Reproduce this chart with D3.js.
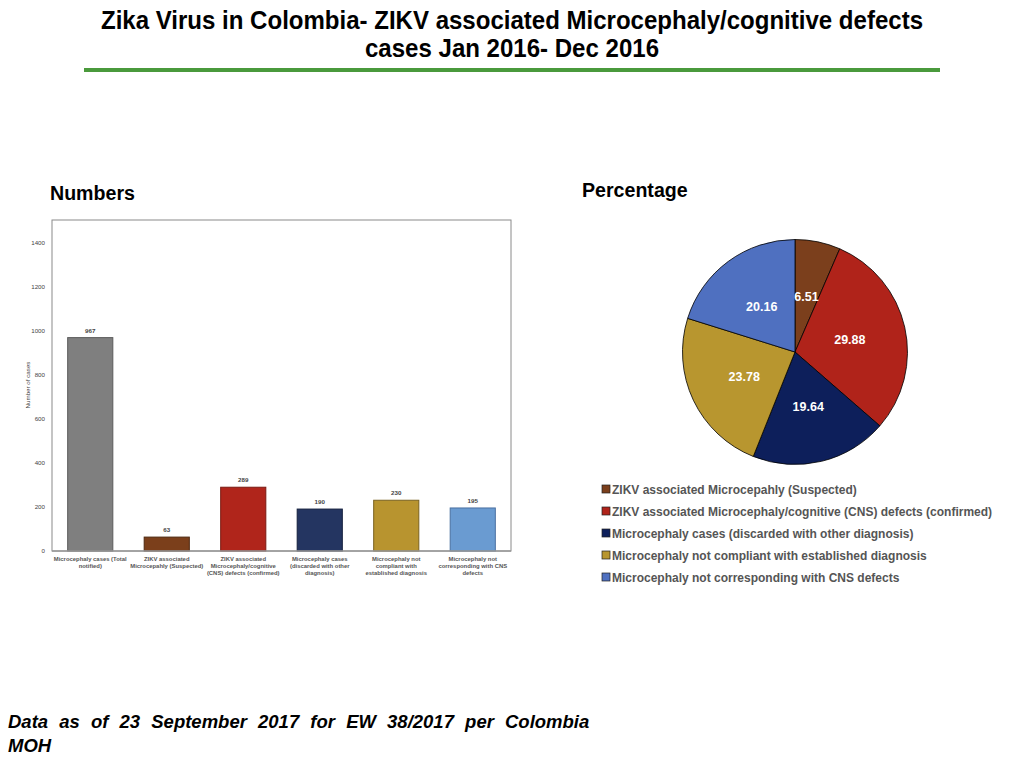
<!DOCTYPE html>
<html><head><meta charset="utf-8">
<script src="https://cdn.jsdelivr.net/npm/d3@7"></script>
<style>body{margin:0;background:#fff}svg{display:block}</style>
</head><body>
<svg id="c" width="1024" height="768"></svg>
<script>
const categories = [
  ["Microcephaly cases (Total","notified)"],
  ["ZIKV associated","Microcepahly (Suspected)"],
  ["ZIKV associated","Microcephaly/cognitive","(CNS) defects (confirmed)"],
  ["Microcephaly cases","(discarded with other","diagnosis)"],
  ["Microcephaly not","compliant with","established diagnosis"],
  ["Microcephaly not","corresponding with CNS","defects"]
];
const counts = [967, 63, 289, 190, 230, 195];
const barColors = ["#7f7f7f","#7b3f1b","#b0251b","#243561","#b8942f","#6a9bd1"];
const barStrokes = ["#5a5a5a","#4e2810","#7a1a12","#141f3c","#7a6220","#4a70a0"];
const yTicks = [0,200,400,600,800,1000,1200,1400];

const pieLabels = [
  "ZIKV associated Microcepahly (Suspected)",
  "ZIKV associated Microcephaly/cognitive (CNS) defects (confirmed)",
  "Microcephaly cases (discarded with other diagnosis)",
  "Microcephaly not compliant with established diagnosis",
  "Microcephaly not corresponding with CNS defects"
];
const piePercents = [6.51, 29.88, 19.64, 23.78, 20.16];
const pieColors = ["#7b3f1c","#b0231a","#0d1f5b","#b8962f","#4f70c0"];

const svg = d3.select("#c");
const sans = "'Liberation Sans', Arial, Helvetica, sans-serif";

// Title
svg.append("text").attr("x",512).attr("y",29).attr("text-anchor","middle")
  .attr("font-family",sans).attr("font-weight","bold").attr("font-size",25.5).attr("fill","#000")
  .attr("textLength",822).attr("lengthAdjust","spacingAndGlyphs")
  .text("Zika Virus in Colombia- ZIKV associated Microcephaly/cognitive defects");
svg.append("text").attr("x",512).attr("y",57).attr("text-anchor","middle")
  .attr("font-family",sans).attr("font-weight","bold").attr("font-size",25.5).attr("fill","#000")
  .attr("textLength",294).attr("lengthAdjust","spacingAndGlyphs")
  .text("cases Jan 2016- Dec 2016");
svg.append("rect").attr("x",84).attr("y",68).attr("width",856).attr("height",4).attr("fill","#4a9a3c");

svg.append("text").attr("x",50).attr("y",200).attr("font-family",sans).attr("font-weight","bold")
  .attr("font-size",19.6).text("Numbers");
svg.append("text").attr("x",582).attr("y",197).attr("font-family",sans).attr("font-weight","bold")
  .attr("font-size",19.6).text("Percentage");

// Bar chart
const L=52, R=511, T=220, B=551;
const x = d3.scaleBand().domain(d3.range(categories.length)).range([L,R]).paddingInner(0.41).paddingOuter(0.205);
const y = d3.scaleLinear().domain([0,1500]).range([B,T]);
const g = svg.append("g");
g.append("rect").attr("x",L).attr("y",T).attr("width",R-L).attr("height",B-T)
  .attr("fill","none").attr("stroke","#8a8a8a").attr("stroke-width",1);

const yAxis = d3.axisLeft(y).tickValues(yTicks).tickSize(0).tickPadding(7).tickFormat(d3.format("d"));
const ya = g.append("g").attr("transform",`translate(${L},0)`).call(yAxis);
ya.select(".domain").remove();
ya.selectAll("text").attr("font-family",sans).attr("font-size",6.2).attr("fill","#444");

g.append("text").attr("transform",`translate(30,385) rotate(-90)`).attr("text-anchor","middle")
  .attr("font-family",sans).attr("font-size",6.2).attr("fill","#444").text("Number of cases");

g.selectAll("rect.bar").data(counts).join("rect").attr("class","bar")
  .attr("x",(d,i)=>x(i)).attr("width",x.bandwidth())
  .attr("y",d=>y(d)).attr("height",d=>B-y(d))
  .attr("fill",(d,i)=>barColors[i]).attr("stroke",(d,i)=>barStrokes[i]).attr("stroke-width",1);

g.append("line").attr("x1",L).attr("x2",R).attr("y1",B).attr("y2",B).attr("stroke","#999").attr("stroke-width",1.5);

g.selectAll("text.val").data(counts).join("text").attr("class","val")
  .attr("x",(d,i)=>x(i)+x.bandwidth()/2).attr("y",d=>y(d)-5).attr("text-anchor","middle")
  .attr("font-family",sans).attr("font-weight","bold").attr("font-size",6.2).attr("fill","#444").text(d=>d);

const xa = g.append("g").attr("transform",`translate(0,${B})`).call(d3.axisBottom(x).tickSize(0).tickFormat(""));
xa.select(".domain").remove();
categories.forEach((lines,i)=>{
  const t = g.append("text").attr("text-anchor","middle").attr("font-family",sans).attr("font-weight","bold")
    .attr("font-size",5.9).attr("fill","#555");
  lines.forEach((ln,j)=>t.append("tspan").attr("x",x(i)+x.bandwidth()/2).attr("y",561+j*7.2).text(ln));
});

// Pie
const cx=795, cy=352, r=112.5;
const pie = d3.pie().sort(null).value(d=>d);
const arc = d3.arc().innerRadius(0).outerRadius(r);
const pg = svg.append("g").attr("transform",`translate(${cx},${cy})`);
const arcs = pie(piePercents);
pg.selectAll("path").data(arcs).join("path").attr("d",arc)
  .attr("fill",(d,i)=>pieColors[i]).attr("stroke","#000").attr("stroke-width",0.8);
pg.selectAll("text").data(arcs).join("text")
  .attr("transform",d=>`translate(${arc.centroid(d)})`)
  .attr("text-anchor","middle").attr("dy","0.35em")
  .attr("font-family",sans).attr("font-weight","bold").attr("font-size",12.5).attr("fill","#fff")
  .text(d=>d.data.toFixed(2));

// Legend
const lg = svg.append("g");
pieLabels.forEach((lab,i)=>{
  const yy = 490 + i*22;
  lg.append("rect").attr("x",602).attr("y",yy-5).attr("width",8).attr("height",8)
    .attr("fill",pieColors[i]).attr("stroke","#222").attr("stroke-width",0.7);
  lg.append("text").attr("x",612).attr("y",yy+4).attr("font-family",sans).attr("font-weight","bold")
    .attr("font-size",12).attr("fill","#555").text(lab);
});

// Footnote
const fn = svg.append("text").attr("font-family",sans).attr("font-weight","bold").attr("font-style","italic")
  .attr("font-size",18.5).attr("fill","#000");
fn.append("tspan").attr("x",8).attr("y",728).attr("word-spacing",6).text("Data as of 23 September 2017 for EW 38/2017 per Colombia");
fn.append("tspan").attr("x",8).attr("y",752).text("MOH");
</script>
</body></html>
